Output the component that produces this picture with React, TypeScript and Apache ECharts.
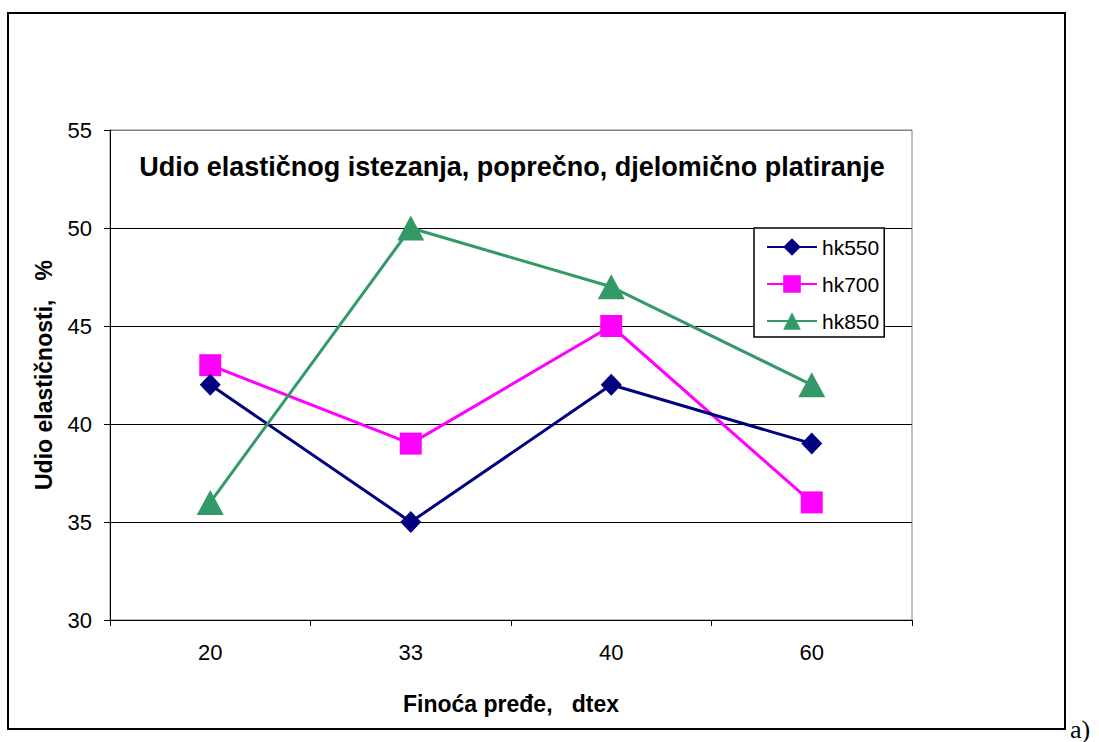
import React, { useEffect, useRef } from "react";
import * as echarts from "echarts";

const categories = ["20", "33", "40", "60"];
const hk550 = [42, 35, 42, 39];
const hk700 = [43, 39, 45, 36];
const hk850 = [36, 50, 47, 42];
const seriesNames = ["hk550", "hk700", "hk850"];
const yMin = 30;
const yMax = 55;
const yStep = 5;

const FONT = "'Liberation Sans', Arial, sans-serif";

export default function App() {
  const ref = useRef<HTMLDivElement>(null);
  useEffect(() => {
    if (!ref.current) return;
    const chart = echarts.init(ref.current, undefined, { renderer: "svg" });
    chart.setOption({
      animation: false,
      backgroundColor: "#ffffff",
      textStyle: { fontFamily: FONT },
      grid: {
        left: 110,
        top: 130,
        right: 187,
        bottom: 122,
        show: true,
        borderColor: "#808080",
        borderWidth: 1,
        backgroundColor: "transparent",
      },
      graphic: [
        {
          type: "rect",
          shape: { x: 8, y: 13, width: 1057, height: 716 },
          style: { fill: "none", stroke: "#000", lineWidth: 2 },
          z: 0,
        },
        {
          type: "text",
          x: 512,
          y: 167,
          style: {
            text: "Udio elastičnog istezanja, poprečno, djelomično platiranje",
            font: `bold 27px ${FONT}`,
            fill: "#000",
            textAlign: "center",
            textVerticalAlign: "middle",
          },
          z: 10,
        },
        {
          type: "text",
          x: 1070,
          y: 742,
          style: {
            text: "a)",
            font: "26px 'Liberation Serif', 'Times New Roman', serif",
            fill: "#000",
            textAlign: "left",
            textVerticalAlign: "bottom",
          },
        },
      ],
      legend: {
        data: seriesNames,
        orient: "vertical",
        left: 754,
        top: 228,
        padding: [8, 5, 5, 12],
        itemGap: 15,
        itemWidth: 50,
        itemHeight: 22,
        backgroundColor: "#ffffff",
        borderColor: "#000",
        borderWidth: 1.5,
        textStyle: { fontSize: 21, lineHeight: 22, color: "#000", fontFamily: FONT },
      },
      xAxis: {
        type: "category",
        data: categories,
        boundaryGap: true,
        name: "Finoća pređe,   dtex",
        nameLocation: "middle",
        nameGap: 72,
        nameTextStyle: { fontSize: 23, fontWeight: "bold", color: "#000", fontFamily: FONT },
        axisLine: { show: true, lineStyle: { color: "#000", width: 1 } },
        axisTick: { show: true, alignWithLabel: false, length: 6, lineStyle: { color: "#000" } },
        axisLabel: { fontSize: 22, color: "#000", margin: 21, fontFamily: FONT },
        splitLine: { show: false },
      },
      yAxis: {
        type: "value",
        min: yMin,
        max: yMax,
        interval: yStep,
        name: "Udio elastičnosti,   %",
        nameLocation: "middle",
        nameGap: 55,
        nameTextStyle: { fontSize: 23, fontWeight: "bold", color: "#000", fontFamily: FONT },
        axisLine: { show: true, lineStyle: { color: "#000", width: 1 } },
        axisTick: { show: true, length: 6, lineStyle: { color: "#000" } },
        axisLabel: { fontSize: 22, color: "#000", margin: 18, fontFamily: FONT },
        splitLine: {
          show: true,
          lineStyle: { color: ["#000", "#000", "#000", "#000", "#000", "#808080"], width: 1 },
        },
      },
      series: [
        {
          name: "hk550",
          type: "line",
          data: hk550,
          symbol: "diamond",
          symbolSize: [21, 22],
          lineStyle: { color: "#000080", width: 3 },
          itemStyle: { color: "#000080", borderWidth: 0 },
          z: 3,
        },
        {
          name: "hk700",
          type: "line",
          data: hk700,
          symbol: "rect",
          symbolSize: 22,
          lineStyle: { color: "#ff00ff", width: 3 },
          itemStyle: { color: "#ff00ff", borderWidth: 0 },
          z: 2,
        },
        {
          name: "hk850",
          type: "line",
          data: hk850,
          symbol: "triangle",
          symbolSize: [27, 25],
          lineStyle: { color: "#339966", width: 3 },
          itemStyle: { color: "#339966", borderWidth: 0 },
          z: 4,
        },
      ],
    });
    return () => chart.dispose();
  }, []);
  return (
    <div
      ref={ref}
      style={{ position: "fixed", left: 0, top: 0, width: 1099, height: 742 }}
    />
  );
}
